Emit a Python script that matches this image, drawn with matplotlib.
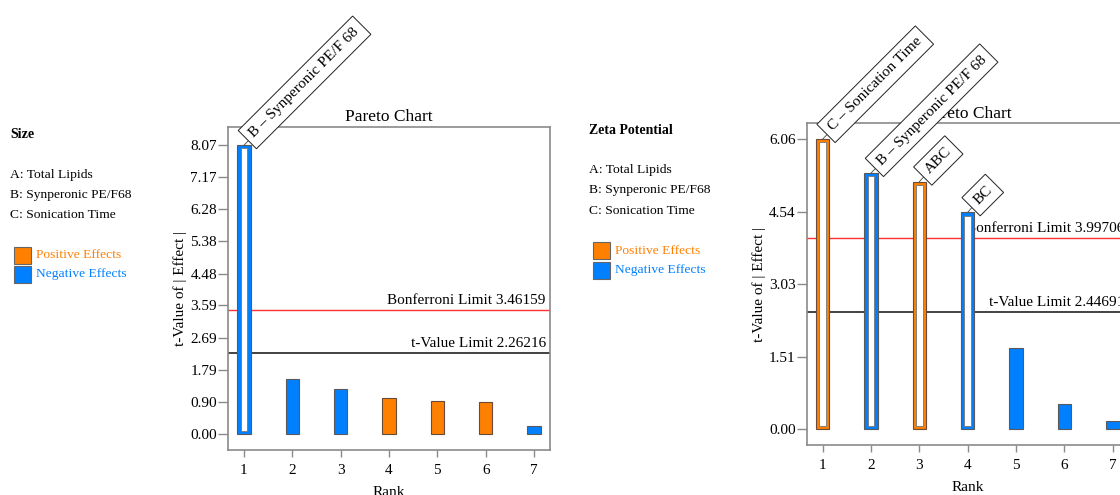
import numpy as np
import matplotlib
matplotlib.use('Agg')
import matplotlib.pyplot as plt
from matplotlib import rcParams
from matplotlib.patches import Rectangle

rcParams['font.family'] = ['Liberation Serif', 'DejaVu Serif']
rcParams['font.size'] = 11
rcParams['axes.edgecolor'] = '#8a8a8a'
rcParams['axes.linewidth'] = 1.2
rcParams['xtick.color'] = '#8a8a8a'
rcParams['ytick.color'] = '#8a8a8a'
rcParams['xtick.labelcolor'] = 'black'
rcParams['ytick.labelcolor'] = 'black'

# data
ranks = [1, 2, 3, 4, 5, 6, 7]

size_t = [8.07, 1.53, 1.25, 1.01, 0.91, 0.88, 0.21]
size_sign = ['-', '-', '-', '+', '+', '+', '-']
size_names = ['B \u2013 Synperonic PE/F 68', '', '', '', '', '', '']
size_yticks = [0.00, 0.90, 1.79, 2.69, 3.59, 4.48, 5.38, 6.28, 7.17, 8.07]
size_tlim = 2.26216
size_bonf = 3.46159

zeta_t = [6.06, 5.35, 5.17, 4.53, 1.69, 0.52, 0.18]
zeta_sign = ['+', '-', '+', '-', '-', '-', '-']
zeta_names = ['C \u2013 Sonication Time', 'B \u2013 Synperonic PE/F 68', 'ABC', 'BC', '', '', '']
zeta_yticks = [0.00, 1.51, 3.03, 4.54, 6.06]
zeta_tlim = 2.44691
zeta_bonf = 3.99706

factors = ['A: Total Lipids', 'B: Synperonic PE/F68', 'C: Sonication Time']

orange = '#FF8000'
blue = '#0080FF'
W, H = 1120, 495


def pareto(ax, vals, signs, names, yticks, tlim, bonf, ylo, yhi):
	ax.set_xlim(0.67, 7.33)
	ax.set_ylim(ylo, yhi)
	ax.set_xticks(ranks)
	ax.set_yticks(yticks)
	ax.set_yticklabels(['%.2f' % v for v in yticks])
	ax.tick_params(axis='x', length=5, width=1, pad=5, labelsize=11)
	ax.tick_params(axis='y', length=7, width=1, pad=1, labelsize=11)
	for s in ['left', 'bottom', 'top', 'right']:
		ax.spines[s].set_color('#8a8a8a')

	ax.axhline(bonf, color='#ff3030', lw=1.0, zorder=1)
	ax.axhline(tlim, color='#222222', lw=1.2, zorder=1)
	ax.annotate('Bonferroni Limit %.5f' % bonf, xy=(1, bonf), xycoords=('axes fraction', 'data'),
		xytext=(-3, 2), textcoords='offset points', ha='right', va='bottom', fontsize=11, zorder=1)
	ax.annotate('t-Value Limit %.5f' % tlim, xy=(1, tlim), xycoords=('axes fraction', 'data'),
		xytext=(-3, 2), textcoords='offset points', ha='right', va='bottom', fontsize=11, zorder=1)

	bw = 0.28
	cols = [orange if s == '+' else blue for s in signs]
	edges = ['#6a4a3a' if s == '+' else '#5a5a5a' for s in signs]
	ax.bar(ranks, vals, width=bw, color=cols, edgecolor=edges, lw=0.8, zorder=3)

	# hollow bars for effects above the Bonferroni limit
	inv = ax.transData.inverted()
	p0 = inv.transform((0, 0))
	p1 = inv.transform((3.5, 3.2))
	bx, by = p1 - p0
	for r, v, e, name in zip(ranks, vals, edges, names):
		if v > bonf:
			ax.bar(r, v - 2 * by, bottom=by, width=bw - 2 * bx, color='white', edgecolor='#777777', lw=0.6, zorder=4)
		if name:
			ax.annotate(name, xy=(r, v), xytext=(9, 4), textcoords='offset points',
				rotation=45, rotation_mode='anchor', ha='left', va='bottom', fontsize=11,
				bbox=dict(boxstyle='square,pad=0.42', fc='white', ec='#222222', lw=0.7),
				arrowprops=dict(arrowstyle='-', color='#444444', lw=0.6, shrinkA=0, shrinkB=0),
				annotation_clip=False, zorder=6)

	ax.set_title('Pareto Chart', fontsize=12.5, pad=4)
	ax.set_ylabel('t-Value of | Effect |', fontsize=11)
	ax.yaxis.set_label_coords(-0.127, 0.5)
	ax.set_xlabel('Rank', fontsize=11)
	ax.xaxis.set_label_coords(0.5, -0.112)


def sidetext(fig, x, y, title):
	fig.text(x / W, 1 - y / H, title, fontsize=10, fontweight='bold', va='center')
	for i, f in enumerate(factors):
		fig.text(x / W, 1 - (y + 40 + 20 * i) / H, f, fontsize=9.7, va='center')
	for i, (lab, c) in enumerate([('Positive Effects', orange), ('Negative Effects', blue)]):
		yc = y + 120 + 19.5 * i
		fig.patches.append(Rectangle(((x + 4) / W, 1 - (yc + 8.5) / H), 16.5 / W, 17 / H,
			transform=fig.transFigure, fc=c, ec='#666666', lw=0.8))
		fig.text((x + 26) / W, 1 - yc / H, lab, fontsize=9.7, color=c, va='center')


fig = plt.figure(figsize=(11.2, 4.95), dpi=100)

ax1 = plt.axes([228 / W, 1 - 450 / H, 322 / W, 323 / H])
pareto(ax1, size_t, size_sign, size_names, size_yticks, size_tlim, size_bonf, -0.45, 8.58)

ax2 = plt.axes([806.7 / W, 1 - 445 / H, 322 / W, 321.7 / H])
pareto(ax2, zeta_t, zeta_sign, zeta_names, zeta_yticks, zeta_tlim, zeta_bonf, -0.33, 6.39)

sidetext(fig, 10, 135, 'Size')
sidetext(fig, 589, 130.5, 'Zeta Potential')

fig.savefig('out.png', dpi=100)
